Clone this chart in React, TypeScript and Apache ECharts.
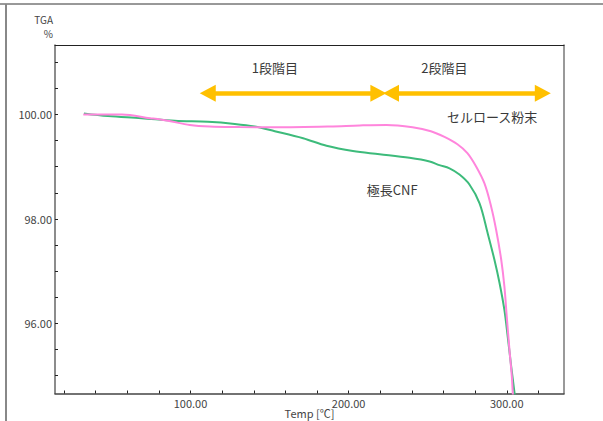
import React, { useEffect, useRef } from "react";
import * as echarts from "echarts";

// Temperature (°C) / TGA (%)
const tempCNF = [32.6, 47.8, 69, 90, 111, 128, 140.6, 153.3, 171.2, 186, 202.7, 219.6, 238.5, 251.2, 257.4, 263.8, 270.1, 276.4, 282.8, 287.9, 292.2, 295.4, 298.5, 300.6, 302.8, 304.9, 305.8];
const tgaCNF = [100.02, 99.97, 99.93, 99.88, 99.86, 99.82, 99.77, 99.68, 99.545, 99.4, 99.3, 99.24, 99.17, 99.1, 99.03, 98.97, 98.85, 98.66, 98.3, 97.73, 97.22, 96.78, 96.26, 95.75, 95.18, 94.67, 94.4];

const tempCellulose = [32.2, 44, 56.6, 74.3, 85.7, 99.6, 112.2, 131.1, 153.3, 188, 207, 224, 240.4, 252, 260.6, 268.8, 275.1, 280.7, 285.9, 290.1, 293.3, 296.5, 298.5, 300, 301.7, 303.2, 303.8, 304.5];
const tgaCellulose = [100.0, 100.0, 100.0, 99.93, 99.88, 99.8, 99.77, 99.76, 99.755, 99.77, 99.79, 99.8, 99.755, 99.68, 99.57, 99.43, 99.26, 99.0, 98.68, 98.24, 97.79, 97.22, 96.71, 96.13, 95.5, 94.99, 94.67, 94.4];

const xLabelValues = [100, 200, 300];
const xTickValues = [20, 40, 60, 80, 100, 120, 140, 160, 180, 200, 220, 240, 260, 280, 300, 320];
const yLabelValues = [96, 98, 100];
const yTickValues = [95, 95.5, 96, 96.5, 97, 97.5, 98, 98.5, 99, 99.5, 100, 100.5, 101];

const seriesNames = ["極長CNF", "セルロース粉末"];
const stageNames = ["1段階目", "2段階目"];
// arrow extents (temperature) and height (TGA)
const stage1Range = [110.9, 218.8];
const stage2Range = [226.8, 322.8];
const arrowLevel = 100.405;
const stageLabelLevel = 100.89;
const stageLabelTemps = [153.3, 260.6];
const seriesLabelPos = [[227.5, 98.56], [290.7, 99.97]];

const FONT = "Noto Sans CJK JP";

export default function App() {
  const ref = useRef<HTMLDivElement>(null);
  useEffect(() => {
    if (!ref.current) return;
    const chart = echarts.init(ref.current, undefined, { renderer: "svg" });
    const textLabel = (name: string, coord: number[]) => ({
      name,
      coord,
      symbol: "rect",
      symbolSize: 1,
      itemStyle: { color: "rgba(0,0,0,0)" },
      label: {
        show: true,
        position: "inside",
        formatter: name,
        color: "#3a3a3a",
        fontSize: 13,
        fontFamily: FONT,
      },
    });
    chart.setOption({
      animation: false,
      textStyle: { fontFamily: FONT },
      grid: { left: 55, top: 45, right: 39, bottom: 27.5, containLabel: false, outerBoundsMode: "none" },
      xAxis: [
        {
          type: "value",
          position: "bottom",
          min: 14.3,
          max: 336.2,
          name: "Temp [℃]",
          nameLocation: "middle",
          nameGap: 14,
          nameMoveOverlap: false,
          nameTextStyle: { color: "#444", fontSize: 11, fontFamily: FONT },
          axisLine: { show: true, onZero: false, lineStyle: { color: "#444", width: 1.5 } },
          axisTick: { show: true, inside: true, length: 3, customValues: xTickValues, lineStyle: { color: "#222" } },
          axisLabel: {
            show: true,
            customValues: xLabelValues,
            margin: 4,
            color: "#444",
            fontSize: 11,
            fontFamily: FONT,
            formatter: (v: number) => v.toFixed(2),
          },
          splitLine: { show: false },
        },
        {
          type: "value",
          position: "top",
          min: 14.3,
          max: 336.2,
          axisLine: { show: true, onZero: false, lineStyle: { color: "#222", width: 1 } },
          axisTick: { show: false },
          axisLabel: { show: false },
          splitLine: { show: false },
        },
      ],
      yAxis: [
        {
          type: "value",
          position: "left",
          min: 94.66,
          max: 101.33,
          axisLine: { show: true, onZero: false, lineStyle: { color: "#666", width: 1.5 } },
          axisTick: { show: true, inside: true, length: 3, customValues: yTickValues, lineStyle: { color: "#222" } },
          axisLabel: {
            show: true,
            customValues: yLabelValues,
            margin: 3,
            color: "#444",
            fontSize: 11,
            fontFamily: FONT,
            formatter: (v: number) => v.toFixed(2),
          },
          splitLine: { show: false },
        },
        {
          type: "value",
          position: "right",
          min: 94.66,
          max: 101.33,
          axisLine: { show: true, onZero: false, lineStyle: { color: "#777", width: 1.5 } },
          axisTick: { show: false },
          axisLabel: { show: false },
          splitLine: { show: false },
        },
      ],
      graphic: [
        { type: "line", shape: { x1: 0, y1: 4, x2: 603, y2: 4 }, style: { stroke: "#333", lineWidth: 1 } },
        { type: "line", shape: { x1: 6, y1: 4, x2: 6, y2: 421 }, style: { stroke: "#888", lineWidth: 2 } },
        {
          type: "text",
          x: 53,
          y: 14,
          style: { text: "TGA", align: "right", verticalAlign: "top", lineHeight: 11, fill: "#444", fontSize: 10, fontFamily: FONT },
        },
        {
          type: "text",
          x: 53,
          y: 28,
          style: { text: "%", align: "right", verticalAlign: "top", lineHeight: 11, fill: "#444", fontSize: 10, fontFamily: FONT },
        },
      ],
      series: [
        {
          name: seriesNames[0],
          type: "line",
          xAxisIndex: 0,
          yAxisIndex: 0,
          data: tempCNF.map((t, i) => [t, tgaCNF[i]]),
          showSymbol: false,
          smooth: 0.35,
          lineStyle: { color: "#3dbb7b", width: 2 },
          itemStyle: { color: "#3dbb7b" },
          silent: true,
          markPoint: {
            silent: true,
            data: [textLabel(seriesNames[0], seriesLabelPos[0])],
          },
        },
        {
          name: seriesNames[1],
          type: "line",
          xAxisIndex: 0,
          yAxisIndex: 0,
          data: tempCellulose.map((t, i) => [t, tgaCellulose[i]]),
          showSymbol: false,
          smooth: 0.35,
          lineStyle: { color: "#ff85dc", width: 2 },
          itemStyle: { color: "#ff85dc" },
          silent: true,
          markPoint: {
            silent: true,
            data: [
              textLabel(seriesNames[1], seriesLabelPos[1]),
              textLabel(stageNames[0], [stageLabelTemps[0], stageLabelLevel]),
              textLabel(stageNames[1], [stageLabelTemps[1], stageLabelLevel]),
            ],
          },
          markLine: {
            silent: true,
            symbol: ["triangle", "triangle"],
            symbolSize: [17, 16],
            label: { show: false },
            lineStyle: { color: "#ffc000", width: 4.5, type: "solid" },
            emphasis: { disabled: true },
            data: [
              [{ coord: [stage1Range[0], arrowLevel] }, { coord: [stage1Range[1], arrowLevel] }],
              [{ coord: [stage2Range[0], arrowLevel] }, { coord: [stage2Range[1], arrowLevel] }],
            ],
          },
        },
      ],
    });
    return () => chart.dispose();
  }, []);
  return <div ref={ref} style={{ width: 603, height: 421, position: "absolute", left: 0, top: 0 }} />;
}
